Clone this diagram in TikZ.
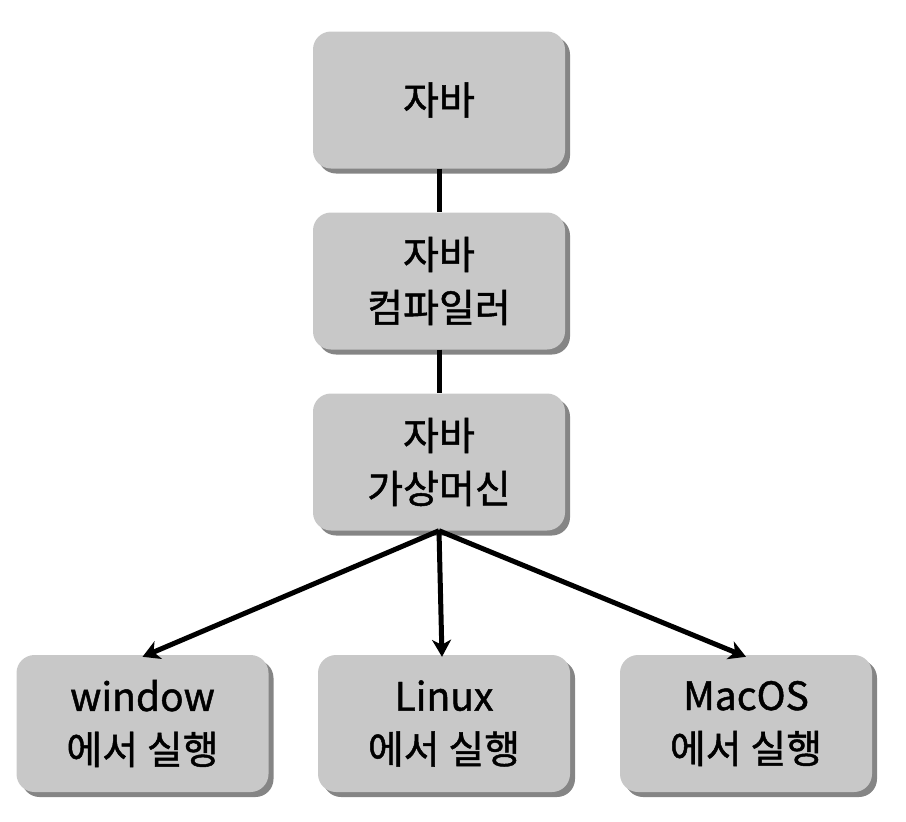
\documentclass[tikz,border=0pt]{standalone}
\usepackage{fontspec}
\setmainfont{Noto Sans CJK KR}[FakeBold=1.2]
\usetikzlibrary{shadows,arrows.meta}
\begin{document}
\begin{tikzpicture}[x=1pt,y=-1pt,
  box/.style={rectangle, rounded corners=18pt, fill={rgb,255:red,200;green,200;blue,200},
    minimum width=252pt, minimum height=137pt, align=center, inner sep=0pt,
    font=\fontsize{39}{53}\selectfont,
    drop shadow={shadow xshift=5pt, shadow yshift=-5pt, fill={rgb,255:red,120;green,120;blue,120}, opacity=0.9}},
  link/.style={line width=5pt},
  arr/.style={line width=5pt, -{Stealth[length=17pt,width=19pt,inset=5pt]}}]
\useasboundingbox (0,0) rectangle (906,822);
\node[box] (java) at (439,100) {자바};
\node[box] (comp) at (439,281) {자바\\컴파일러};
\node[box] (jvm) at (439,462) {자바\\가상머신};
\node[box] (win) at (142.5,723.5) {window\\에서 실행};
\node[box] (lin) at (444,723.5) {Linux\\에서 실행};
\node[box] (mac) at (746,723.5) {MacOS\\에서 실행};
\draw[link] (java.south) -- (comp.north);
\draw[link] (comp.south) -- (jvm.north);
\draw[arr] (jvm.south) -- ([yshift=-2pt]win.north);
\draw[arr] (jvm.south) -- ([xshift=-2pt,yshift=-2pt]lin.north);
\draw[arr] (jvm.south) -- ([yshift=-2pt]mac.north);
\end{tikzpicture}
\end{document}
